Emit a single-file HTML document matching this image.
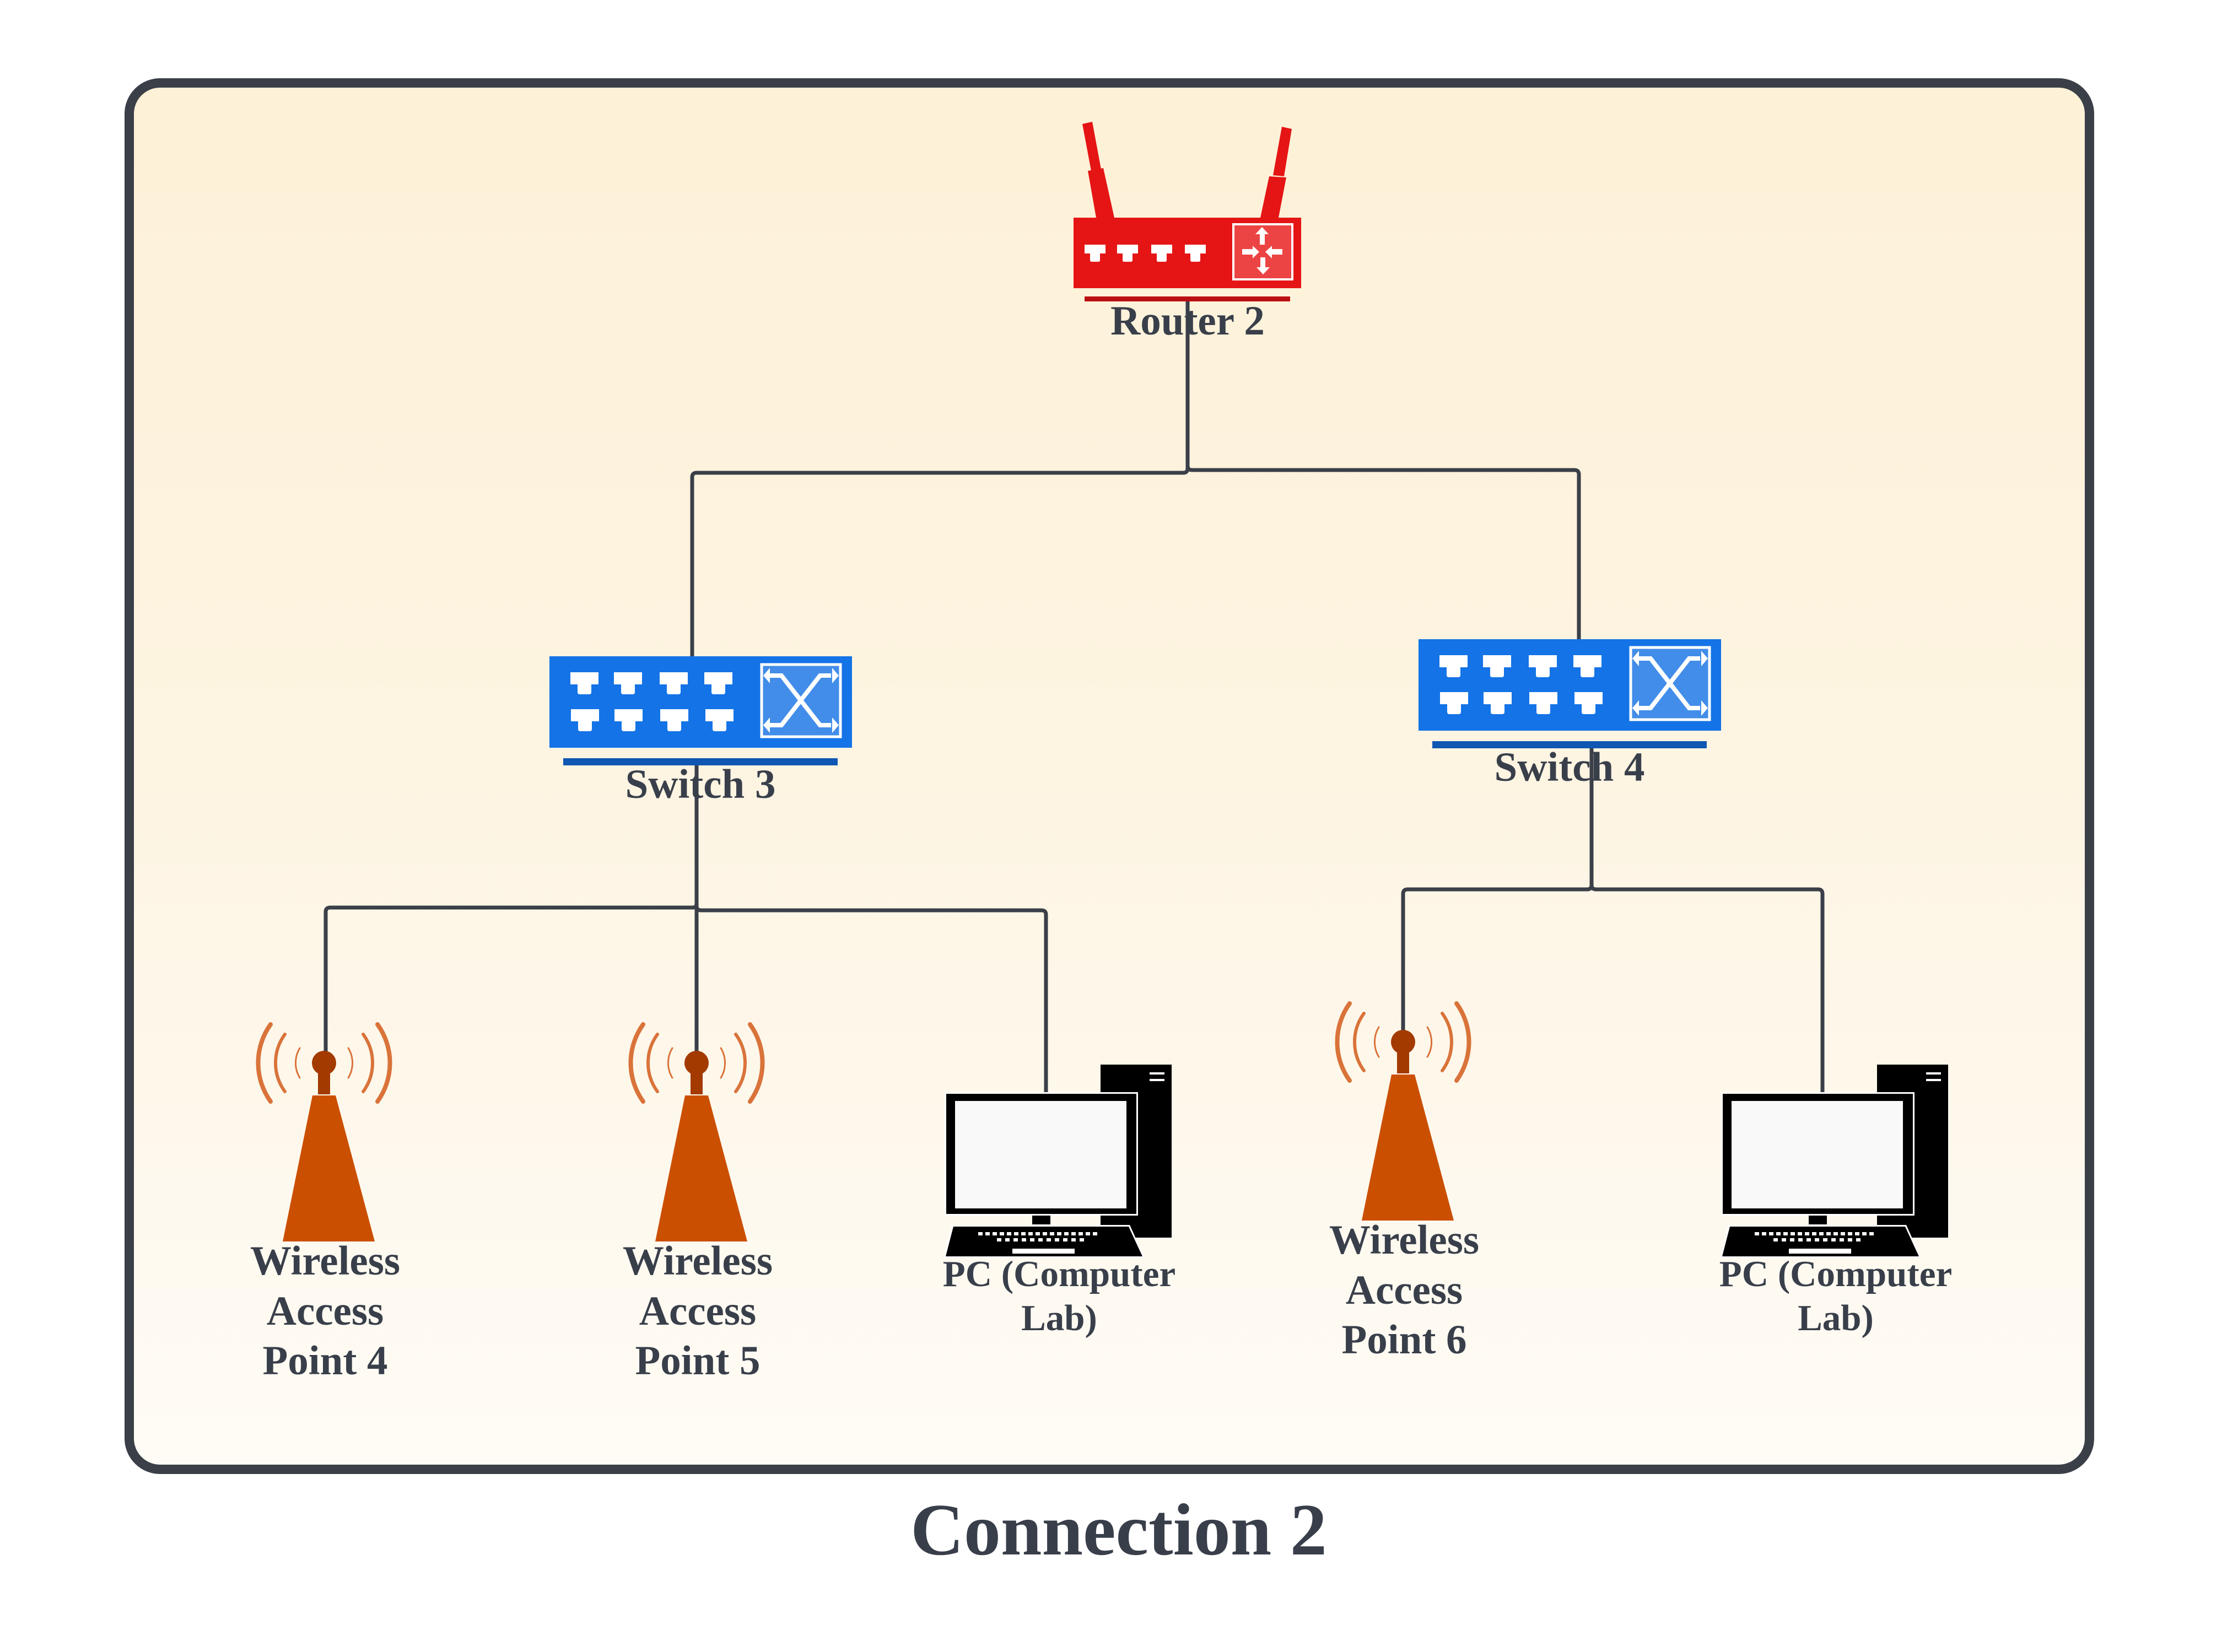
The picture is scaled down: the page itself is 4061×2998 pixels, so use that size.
<!DOCTYPE html>
<html><head><meta charset="utf-8"><style>
html,body{margin:0;padding:0;background:#fff;}
svg{display:block;}
text{font-family:"Liberation Serif",serif;font-weight:bold;fill:#393f4a;}
</style></head><body>
<svg width="4061" height="2998" viewBox="0 0 4061 2998" xmlns="http://www.w3.org/2000/svg">
<defs>
<linearGradient id="bg" x1="0" y1="0" x2="0" y2="1">
<stop offset="0" stop-color="#fdf1d7"/><stop offset="0.5" stop-color="#fdf4e2"/><stop offset="1" stop-color="#fffcf6"/>
</linearGradient>
<g id="ap">
 <g fill="none" stroke="#d9733a" stroke-linecap="round">
  <path d="M-97,-70 A120,120 0 0 0 -97,70" stroke-width="8"/>
  <path d="M97,-70 A120,120 0 0 1 97,70" stroke-width="8"/>
  <path d="M-71,-52 A88,88 0 0 0 -71,52" stroke-width="6"/>
  <path d="M71,-52 A88,88 0 0 1 71,52" stroke-width="6"/>
  <path d="M-44,-27 A52,52 0 0 0 -44,27" stroke-width="3"/>
  <path d="M44,-27 A52,52 0 0 1 44,27" stroke-width="3"/>
 </g>
 <circle cx="0" cy="0" r="22" fill="#a33a00"/>
 <rect x="-11" y="0" width="22" height="57" fill="#a33a00"/>
 <polygon points="-21,59 21,59 92,324 -75,324" fill="#cb4f00"/>
</g>
<g id="pc">
 <rect x="1997" y="1932" width="129" height="314" fill="#000"/>
 <rect x="2086" y="1946" width="27" height="4" fill="#fff"/>
 <rect x="2086" y="1958" width="27" height="4" fill="#fff"/>
 <rect x="1714" y="1982" width="351" height="224" fill="#fff"/>
 <rect x="1717" y="1985" width="345" height="218" fill="#000"/>
 <rect x="1733" y="1998" width="311" height="195" fill="#f9f9f9"/>
 <rect x="1873" y="2206" width="33" height="16" fill="#000"/>
 <polygon points="1727,2223 2050,2223 2077,2283 1712,2283" fill="#fff"/>
 <polygon points="1730,2226 2048,2226 2073,2280 1716,2280" fill="#000"/>
 <g fill="#fff">
  <rect x="1775" y="2236" width="8" height="6"/><rect x="1788" y="2236" width="8" height="6"/><rect x="1801" y="2236" width="8" height="6"/><rect x="1814" y="2236" width="8" height="6"/><rect x="1827" y="2236" width="8" height="6"/><rect x="1840" y="2236" width="8" height="6"/><rect x="1853" y="2236" width="8" height="6"/><rect x="1866" y="2236" width="8" height="6"/><rect x="1879" y="2236" width="8" height="6"/><rect x="1892" y="2236" width="8" height="6"/><rect x="1905" y="2236" width="8" height="6"/><rect x="1918" y="2236" width="8" height="6"/><rect x="1931" y="2236" width="8" height="6"/><rect x="1944" y="2236" width="8" height="6"/><rect x="1957" y="2236" width="8" height="6"/><rect x="1970" y="2236" width="8" height="6"/><rect x="1983" y="2236" width="8" height="6"/>
  <rect x="1809" y="2247" width="8" height="6"/><rect x="1824" y="2247" width="8" height="6"/><rect x="1839" y="2247" width="8" height="6"/><rect x="1854" y="2247" width="8" height="6"/><rect x="1869" y="2247" width="8" height="6"/><rect x="1884" y="2247" width="8" height="6"/><rect x="1899" y="2247" width="8" height="6"/><rect x="1914" y="2247" width="8" height="6"/><rect x="1929" y="2247" width="8" height="6"/><rect x="1944" y="2247" width="8" height="6"/><rect x="1959" y="2247" width="8" height="6"/>
  <rect x="1837" y="2266" width="113" height="9"/>
 </g>
</g>
<g id="port"><path d="M0,0 H51 V22 H38 V36 Q38,40 34,40 H17 Q13,40 13,36 V22 H0 Z" fill="#fff"/></g>
<g id="sw">
 <rect x="997" y="1191" width="549" height="166" fill="#1473e6"/>
 <use href="#port" x="1035" y="1220"/><use href="#port" x="1114" y="1220"/><use href="#port" x="1197" y="1220"/><use href="#port" x="1278" y="1220"/>
 <use href="#port" x="1036" y="1287"/><use href="#port" x="1115" y="1287"/><use href="#port" x="1198" y="1287"/><use href="#port" x="1280" y="1287"/>
 <rect x="1382" y="1206" width="143" height="131" fill="#428de9" stroke="#fff" stroke-width="5"/>
 <g transform="translate(1380,1204)">
  <path d="M16,22 H38 L108,112 H128 M16,112 H38 L108,22 H128" fill="none" stroke="#fff" stroke-width="8"/>
  <polygon points="5,22 17,8 17,36" fill="#fff"/>
  <polygon points="5,112 17,98 17,126" fill="#fff"/>
  <polygon points="142,22 130,8 130,36" fill="#fff"/>
  <polygon points="142,112 130,98 130,126" fill="#fff"/>
 </g>
 <rect x="1022" y="1376" width="498" height="13" fill="#0f57b3"/>
</g>
</defs>

<rect x="234.5" y="150.5" width="3557" height="2516" rx="56" ry="56" fill="url(#bg)" stroke="#3a3f48" stroke-width="17"/>

<g fill="none" stroke="#3a3f48" stroke-width="7">
 <path d="M2155,547 V850 Q2155,858 2147,858 H1264 Q1256,858 1256,866 V1191"/>
 <path d="M2155,840 V845 Q2155,853 2163,853 H2857 Q2865,853 2865,861 V1160"/>
 <path d="M1264,1389 V1640 Q1264,1647 1257,1647 H599 Q591,1647 591,1655 V1929"/>
 <path d="M1264,1640 V1929"/>
 <path d="M1264,1644 Q1264,1652 1272,1652 H1890 Q1898,1652 1898,1660 V1986"/>
 <path d="M2888,1358 V1606 Q2888,1614 2880,1614 H2554 Q2546,1614 2546,1622 V1891"/>
 <path d="M2888,1606 Q2888,1614 2896,1614 H3299 Q3307,1614 3307,1622 V1986"/>
</g>

<g fill="#e51515">
 <polygon points="1964,225 1982,221 1998,307 1980,310"/>
 <polygon points="1974,310 2002,305 2022,395 1989,395"/>
 <polygon points="2326,230 2344,234 2330,320 2310,318"/>
 <polygon points="2303,320 2334,322 2320,395 2287,395"/>
 <rect x="1948" y="395" width="413" height="128"/>
</g>
<rect x="1968" y="538" width="373" height="9" fill="#bb0f12"/>
<g fill="#fff">
 <path d="M1968,444 H2006 V460 H1996 V472 Q1996,475 1993,475 H1981 Q1978,475 1978,472 V460 H1968 Z"/>
 <path d="M2027,444 H2065 V460 H2055 V472 Q2055,475 2052,475 H2040 Q2037,475 2037,472 V460 H2027 Z"/>
 <path d="M2089,444 H2127 V460 H2117 V472 Q2117,475 2114,475 H2102 Q2099,475 2099,472 V460 H2089 Z"/>
 <path d="M2150,444 H2188 V460 H2178 V472 Q2178,475 2175,475 H2163 Q2160,475 2160,472 V460 H2150 Z"/>
</g>
<rect x="2238" y="407" width="107" height="100" fill="#ec4444" stroke="#fff" stroke-width="4"/>
<g fill="#fff">
 <polygon points="2290,412 2302,425 2295,425 2295,444 2286,444 2286,425 2278,425"/>
 <polygon points="2292,498 2280,485 2287,485 2287,467 2296,467 2296,485 2304,485"/>
 <polygon points="2285,457 2273,446 2273,452 2254,452 2254,462 2273,462 2273,469"/>
 <polygon points="2296,457 2308,446 2308,452 2327,452 2327,462 2308,462 2308,469"/>
</g>
<text x="2155" y="607" font-size="75" text-anchor="middle">Router 2</text>

<use href="#sw"/>
<text x="1271" y="1448" font-size="75" text-anchor="middle">Switch 3</text>
<use href="#sw" transform="translate(1577,-31)"/>
<text x="2848" y="1417" font-size="75" text-anchor="middle">Switch 4</text>

<use href="#ap" transform="translate(588,1929)"/>
<use href="#ap" transform="translate(1264,1929)"/>
<use href="#ap" transform="translate(2546,1891)"/>
<g font-size="75" text-anchor="middle">
 <text x="590" y="2313">Wireless</text><text x="590" y="2404">Access</text><text x="590" y="2494">Point 4</text>
 <text x="1266" y="2313">Wireless</text><text x="1266" y="2404">Access</text><text x="1266" y="2494">Point 5</text>
 <text x="2548" y="2275">Wireless</text><text x="2548" y="2366">Access</text><text x="2548" y="2456">Point 6</text>
</g>

<use href="#pc"/>
<use href="#pc" transform="translate(1409,0)"/>
<g font-size="67" text-anchor="middle">
 <text x="1922" y="2334">PC (Computer</text><text x="1922" y="2414">Lab)</text>
 <text x="3331" y="2334">PC (Computer</text><text x="3331" y="2414">Lab)</text>
</g>

<text x="2030" y="2821" font-size="134" text-anchor="middle">Connection 2</text>
</svg>
</body></html>
